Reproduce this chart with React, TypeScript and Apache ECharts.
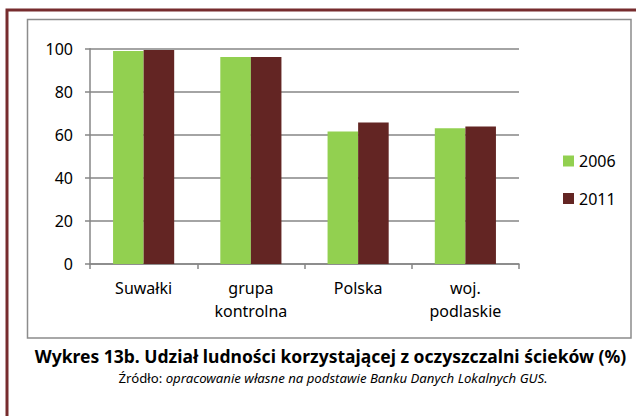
import React, { useEffect, useRef } from "react";
import * as echarts from "echarts";

const categories = ["Suwałki", "grupa\nkontrolna", "Polska", "woj.\npodlaskie"];
const series2006 = [98.9, 96.1, 61.5, 63.0];
const series2011 = [99.4, 96.1, 65.7, 63.9];
const seriesNames = ["2006", "2011"];
const yTicks = { min: 0, max: 100, interval: 20 };
const captionTitle = "Wykres 13b. Udział ludności korzystającej z oczyszczalni ścieków (%)";
const captionSourceLabel = "Źródło: ";
const captionSourceText = "opracowanie własne na podstawie Banku Danych Lokalnych GUS.";

const FONT = "Noto Sans";

export default function App() {
  const ref = useRef<HTMLDivElement>(null);
  useEffect(() => {
    if (!ref.current) return;
    const chart = echarts.init(ref.current, undefined, { renderer: "svg" });
    chart.setOption({
      animation: false,
      backgroundColor: "#ffffff",
      textStyle: { fontFamily: FONT },
      grid: { left: 90, right: 117, top: 48.7, bottom: 152, containLabel: false },
      legend: {
        orient: "vertical",
        left: 558,
        top: 148,
        itemWidth: 11,
        itemHeight: 11,
        itemGap: 21.5,
        icon: "rect",
        data: seriesNames,
        textStyle: { fontFamily: FONT, fontSize: 16, color: "#000" },
      },
      xAxis: {
        type: "category",
        data: categories,
        axisLine: { lineStyle: { color: "#868686", width: 1.5 } },
        axisTick: { show: true, length: 5, lineStyle: { color: "#868686", width: 1.5 } },
        axisLabel: { fontFamily: FONT, fontSize: 16, color: "#000", lineHeight: 23, margin: 12, interval: 0 },
      },
      yAxis: {
        type: "value",
        min: yTicks.min,
        max: yTicks.max,
        interval: yTicks.interval,
        axisLine: { show: true, lineStyle: { color: "#868686", width: 1.5 } },
        axisTick: { show: true, length: 5, lineStyle: { color: "#868686", width: 1.5 } },
        axisLabel: { fontFamily: FONT, fontSize: 16, color: "#000", margin: 17 },
        splitLine: { show: true, lineStyle: { color: "#868686", width: 1.5 } },
      },
      series: [
        {
          name: seriesNames[0],
          type: "bar",
          data: series2006,
          barGap: "0%",
          barCategoryGap: "43%",
          itemStyle: { color: "#92d050" },
        },
        {
          name: seriesNames[1],
          type: "bar",
          data: series2011,
          barGap: "0%",
          barCategoryGap: "43%",
          itemStyle: { color: "#632523" },
        },
      ],
      graphic: [
        {
          type: "rect",
          silent: true,
          z: -10,
          shape: { x: 7, y: 10, width: 700, height: 500 },
          style: { fill: "none", stroke: "#772c2e", lineWidth: 3 },
        },
        {
          type: "rect",
          silent: true,
          z: -10,
          shape: { x: 27.5, y: 19.5, width: 603.5, height: 318.5 },
          style: { fill: "none", stroke: "#8c8c8c", lineWidth: 1.5 },
        },
        {
          type: "text",
          x: 330.5,
          y: 356,
          style: {
            text: captionTitle,
            fontFamily: FONT,
            fontWeight: "bold",
            fontSize: 17.5,
            fill: "#000",
            textAlign: "center",
            textVerticalAlign: "middle",
          },
        },
        {
          type: "text",
          x: 333,
          y: 378,
          style: {
            text: "{n|" + captionSourceLabel + "}{i|" + captionSourceText + "}",
            fontFamily: FONT,
            fontSize: 13.2,
            fill: "#000",
            textAlign: "center",
            textVerticalAlign: "middle",
            rich: {
              n: { fontFamily: FONT, fontSize: 13.2, fontStyle: "normal", fill: "#000" },
              i: { fontFamily: FONT, fontSize: 13.2, fontStyle: "italic", fill: "#000" },
            },
          },
        },
      ],
    });
    return () => chart.dispose();
  }, []);
  return (
    <div
      ref={ref}
      style={{ position: "fixed", left: 0, top: 0, width: 636, height: 416 }}
    />
  );
}
